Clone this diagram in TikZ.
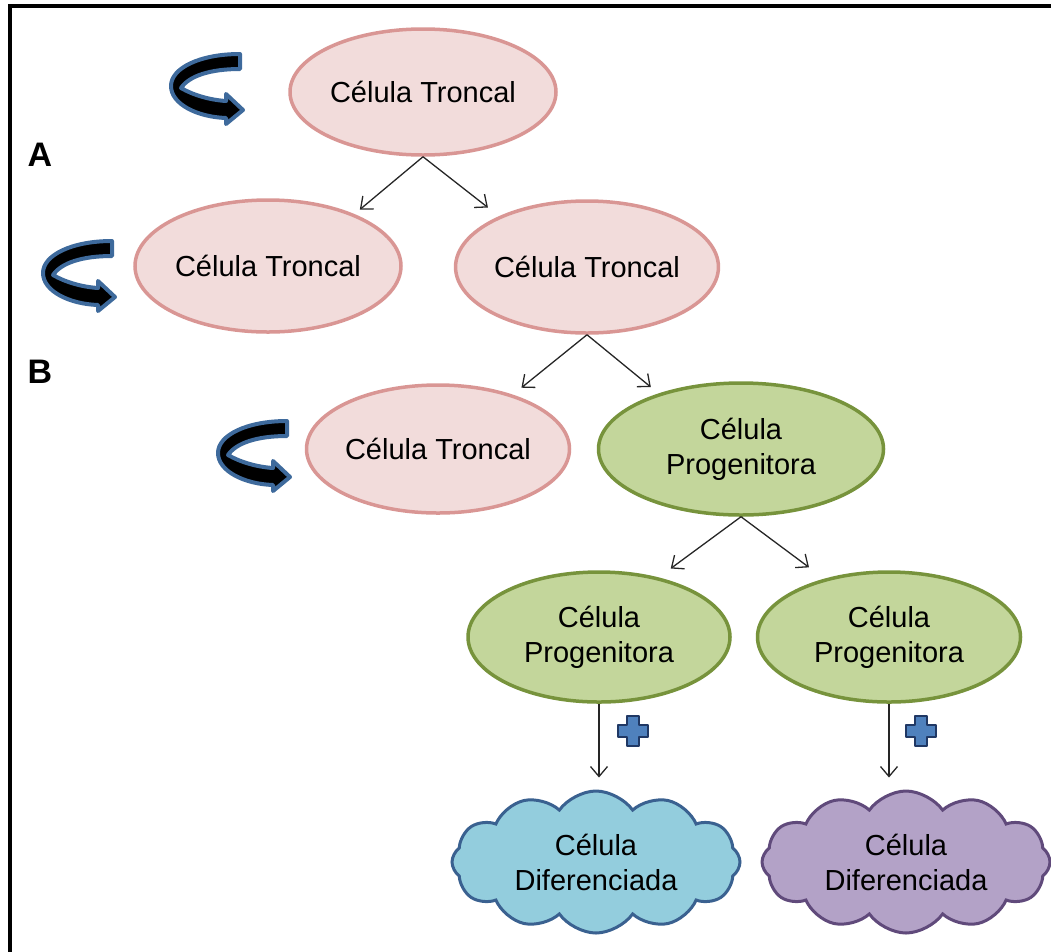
\documentclass[tikz,border=0pt]{standalone}
\usepackage{fontspec}
\setmainfont{Liberation Sans}
\usetikzlibrary{shapes.geometric,shapes.symbols,arrows.meta}
\definecolor{pinkfill}{HTML}{F2DCDB}
\definecolor{pinkline}{HTML}{D99694}
\definecolor{greenfill}{HTML}{C3D69B}
\definecolor{greenline}{HTML}{77933C}
\definecolor{bluefill}{HTML}{93CDDD}
\definecolor{blueline}{HTML}{3A6190}
\definecolor{purplefill}{HTML}{B3A2C7}
\definecolor{purpleline}{HTML}{604A7B}
\definecolor{plusfill}{HTML}{4F81BD}
\definecolor{plusline}{HTML}{203864}
\definecolor{uturnline}{HTML}{3E6A9C}
\begin{document}
\begin{tikzpicture}[x=1pt,y=-1pt,
  cell/.style={ellipse,inner sep=0pt,line width=3.5pt,align=center,
    font=\fontsize{29}{35}\selectfont},
  stem/.style={cell,fill=pinkfill,draw=pinkline},
  prog/.style={cell,fill=greenfill,draw=greenline},
  diff/.style={cloud,cloud puffs=12,cloud puff arc=110,cloud ignores aspect,
    inner sep=0pt,line width=3pt,align=center,
    minimum width=288pt,minimum height=142pt,
    font=\fontsize{29}{35}\selectfont},
  link/.style={draw=black!85,line width=1.3pt,-{Straight Barb[length=10pt,width=17pt]}},
  lab/.style={font=\fontsize{34}{40}\selectfont\bfseries},
  uturn/.pic={\filldraw[fill=black,draw=uturnline,line width=4pt,line join=round]
    (75,6) -- (75,21) .. controls (45,21) and (24,28) .. (16,40)
    .. controls (28,47) and (45,52) .. (61,53) -- (61,46) -- (78,62) -- (61,76) -- (61,70)
    .. controls (32,69) and (6,56) .. (6,38)
    .. controls (6,20) and (35,6) .. (75,6) -- cycle;},
  plus/.pic={\filldraw[fill=plusfill,draw=plusline,line width=1.5pt,line join=round]
    (-6,-15) -- (6,-15) -- (6,-6) -- (15,-6) -- (15,6) -- (6,6) -- (6,15) -- (-6,15)
    -- (-6,6) -- (-15,6) -- (-15,-6) -- (-6,-6) -- cycle;}
]
\useasboundingbox (0,0) rectangle (1051,951);
\clip (0,0) rectangle (1051,951);
\draw[line width=4pt] (10,6) rectangle (1200,1100);

\node[lab] (A) at (40,155) {A};
\node[lab] (B) at (40,372) {B};

\node[stem,minimum width=266pt,minimum height=126pt] (e1) at (423,92) {Célula Troncal};
\node[stem,minimum width=266pt,minimum height=132pt] (e2) at (268,266) {Célula Troncal};
\node[stem,minimum width=262pt,minimum height=132pt] (e3) at (587,267) {Célula Troncal};
\node[stem,minimum width=263pt,minimum height=128pt] (e4) at (438,449) {Célula Troncal};
\node[prog,minimum width=285pt,minimum height=132pt] (e5) at (741,449) {Célula\\Progenitora};
\node[prog,minimum width=262pt,minimum height=130pt] (e6) at (599,637) {Célula\\Progenitora};
\node[prog,minimum width=263pt,minimum height=130pt] (e7) at (889,637) {Célula\\Progenitora};
\node[diff,fill=bluefill,draw=blueline] (c1) at (596,862) {Célula\\Diferenciada};
\node[diff,fill=purplefill,draw=purpleline] (c2) at (906,862) {Célula\\Diferenciada};

\pic at (165,48) {uturn};
\pic at (37,235) {uturn};
\pic at (212,415) {uturn};

\draw[link,shorten >=7pt] (e1.south) -- (e2.31.7);
\draw[link,shorten >=14pt] (e1.south) -- (e3.150.5);
\draw[link,shorten >=11pt] (e3.south) -- (e4.36.5);
\draw[link,shorten >=10pt] (e3.south) -- (e5.146);
\draw[link,shorten >=15pt] (e5.south) -- (e6.45);
\draw[link,shorten >=19pt] (e5.south) -- (e7.138.9);
\draw[link,shorten >=12pt] (e6.south) -- (e6.south |- c1.north);
\draw[link,shorten >=12pt] (e7.south) -- (e7.south |- c2.north);

\pic at (633,731) {plus};
\pic at (921,731) {plus};
\end{tikzpicture}
\end{document}
